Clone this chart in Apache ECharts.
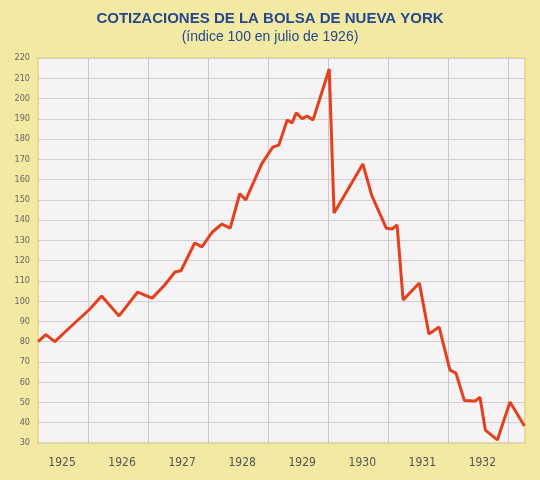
<!DOCTYPE html>
<html>
<head>
<meta charset="utf-8">
<script src="https://cdn.jsdelivr.net/npm/echarts@6/dist/echarts.min.js"></script>
<style>
  html, body { margin: 0; padding: 0; background: #f2e9a2; }
  #chart { width: 540px; height: 480px; }
</style>
</head>
<body>
<div id="chart"></div>
<script>
// fecha (año decimal) y cotización (índice 100 = julio 1926)
const fechas = [1925.17, 1925.30, 1925.45, 1925.70, 1926.03, 1926.23, 1926.52, 1926.83, 1927.07, 1927.28,
  1927.45, 1927.55, 1927.78, 1927.90, 1928.07, 1928.23, 1928.37, 1928.53, 1928.63, 1928.90,
  1929.08, 1929.18, 1929.32, 1929.40, 1929.47, 1929.57, 1929.65, 1929.75, 1930.02, 1930.10,
  1930.58, 1930.73, 1930.97, 1931.07, 1931.15, 1931.25, 1931.52, 1931.68, 1931.85, 1932.03,
  1932.13, 1932.27, 1932.45, 1932.53, 1932.62, 1932.82, 1933.03, 1933.27];
const indice = [80, 83.5, 80, 87, 96, 102.5, 92.7, 104.5, 101.5, 108,
  114.4, 115, 128.7, 126.8, 134, 138, 136, 153, 150, 168,
  176, 177, 189.4, 188, 192.9, 190, 191.4, 189.4, 214.6, 143.5,
  167.7, 152, 136, 135.6, 137.6, 100.6, 109, 83.8, 87.2, 66,
  64.5, 51, 50.7, 52.6, 36.4, 31.5, 50.2, 38.4];
const anios = [1925, 1926, 1927, 1928, 1929, 1930, 1931, 1932];
const divisiones = [1926, 1927, 1928, 1929, 1930, 1931, 1932, 1933];

const chart = echarts.init(document.getElementById('chart'));
chart.setOption({
  backgroundColor: '#f2e9a2',
  title: {
    text: 'COTIZACIONES DE LA BOLSA DE NUEVA YORK',
    subtext: '(índice 100 en julio de 1926)',
    left: 'center', top: 6, itemGap: 4,
    textStyle: { color: '#27478f', fontSize: 15, fontWeight: 'bold', fontFamily: 'Liberation Sans' },
    subtextStyle: { color: '#27478f', fontSize: 14, fontFamily: 'Liberation Sans' }
  },
  grid: { left: 38, right: 15, top: 58, bottom: 37, show: true,
    backgroundColor: '#f5f3f4', borderColor: '#efd98a', borderWidth: 2 },
  xAxis: {
    type: 'value', min: 1925.17, max: 1933.28,
    axisLine: { show: false }, axisTick: { show: false }, splitLine: { show: false },
    axisLabel: {
      customValues: anios.map(a => a + 0.57),
      formatter: v => String(Math.floor(v)),
      color: '#555', fontSize: 12, margin: 14, fontFamily: 'DejaVu Sans Condensed'
    }
  },
  yAxis: {
    type: 'value', min: 30, max: 220, interval: 10,
    axisLine: { show: false }, axisTick: { show: false },
    axisLabel: { color: '#666', fontSize: 9, margin: 8, fontFamily: 'DejaVu Sans Condensed' },
    splitLine: { lineStyle: { color: '#cfcfd6', width: 1 } }
  },
  series: [{
    type: 'line',
    data: [],
    z: 1,
    markLine: {
      silent: true, symbol: 'none', label: { show: false },
      lineStyle: { color: '#c9c9d2', type: 'solid', width: 1 },
      data: divisiones.map(d => ({ xAxis: d }))
    }
  }, {
    type: 'line',
    z: 5,
    data: fechas.map((f, i) => [f, indice[i]]),
    symbol: 'none',
    lineStyle: { color: '#e5401d', width: 3 }
  }]
});
</script>
</body>
</html>
